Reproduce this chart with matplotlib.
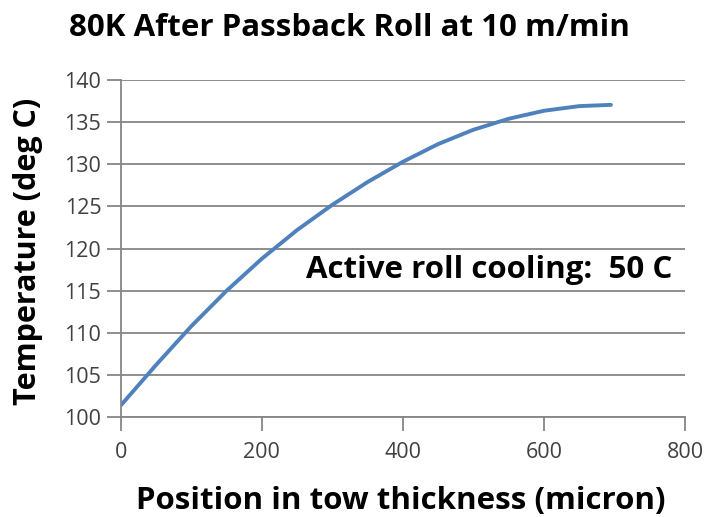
import matplotlib
matplotlib.use("Agg")
import matplotlib.pyplot as plt

# position through the tow (micron) and temperature (deg C)
position = [0, 50, 100, 150, 200, 250, 300, 350, 400, 450, 500, 550, 600, 650, 695]
temperature = [101.4, 106.2, 110.8, 115.0, 118.8, 122.2, 125.2, 127.9, 130.3,
               132.4, 134.1, 135.4, 136.35, 136.9, 137.05]

xticks = [0, 200, 400, 600, 800]
yticks = [100, 105, 110, 115, 120, 125, 130, 135, 140]

plt.rcParams["font.family"] = ["Open Sans", "DejaVu Sans"]
grey = "#868686"

fig = plt.figure(figsize=(7.08, 5.17), dpi=100)
ax = fig.add_axes([0.1705, 0.1928, 0.797, 0.6525])

ax.plot(position, temperature, color="#4F81BD", lw=2.8,
        solid_capstyle="round", solid_joinstyle="round")

ax.set_xlim(0, 800)
ax.set_ylim(100, 140)
ax.set_xticks(xticks)
ax.set_yticks(yticks)
ax.grid(axis="y", color=grey, lw=1.3)
ax.set_axisbelow(True)
for s in ["top", "right"]:
    ax.spines[s].set_visible(False)
for s in ["left", "bottom"]:
    ax.spines[s].set_color(grey)
    ax.spines[s].set_linewidth(1.3)
ax.tick_params(colors=grey, width=1.3, length=10, labelsize=15.5, labelcolor="#404040")
ax.tick_params(axis="x", pad=8)
ax.tick_params(axis="y", pad=4)

ax.text(262, 116.5, "Active roll cooling:  50 C", fontsize=22.5, fontweight="bold", va="baseline")

fig.text(0.493, 1 - 36 / 517, "80K After Passback Roll at 10 m/min", fontsize=22.5,
         fontweight="bold", ha="center", va="baseline")
fig.text(401 / 708, 1 - 509 / 517, "Position in tow thickness (micron)", fontsize=22.5,
         fontweight="bold", ha="center", va="baseline")
fig.text(28 / 708, 1 - 251 / 517, "Temperature (deg C)", fontsize=22, fontweight="bold",
         rotation=90, ha="center", va="center")

fig.savefig("out.png", dpi=100)
